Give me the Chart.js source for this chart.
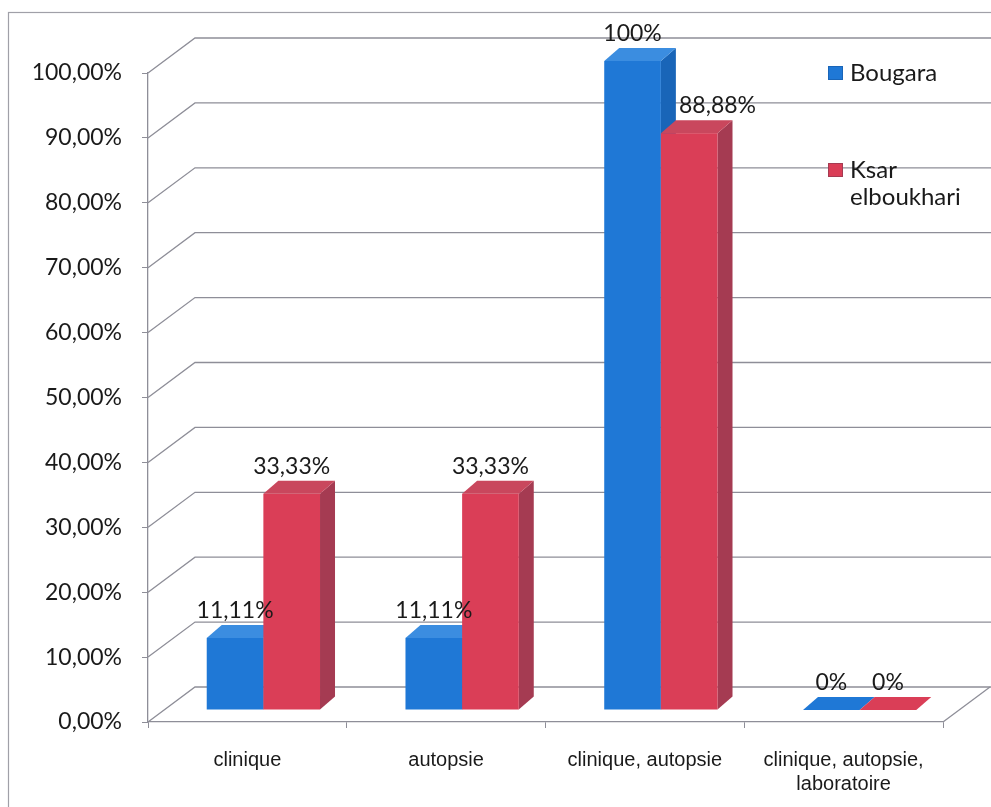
<!DOCTYPE html>
<html>
<head>
<meta charset="utf-8">
<script src="https://cdn.jsdelivr.net/npm/chart.js@4/dist/chart.umd.min.js"></script>
<style>
  html, body { margin: 0; padding: 0; background: #fff; }
  #wrap { width: 991px; height: 807px; position: relative; }
</style>
</head>
<body>
<div id="wrap"><canvas id="graphique"></canvas></div>
<script>
const categories = ['clinique', 'autopsie', 'clinique, autopsie', ['clinique, autopsie,', 'laboratoire']];
const bougara = [11.11, 11.11, 100, 0];
const ksar = [33.33, 33.33, 88.88, 0];
const etiquettesB = ['11,11%', '11,11%', '100%', '0%'];
const etiquettesK = ['33,33%', '33,33%', '88,88%', '0%'];

// faces des colonnes 3D : avant, dessus, côté
const couleurs = [
  { face: '#1f78d6', top: '#3b8de0', side: '#1965b8' },
  { face: '#da3e57', top: '#c9475d', side: '#a53b52' }
];

const decalBarre = { dx: 16, dy: -12 };   // plan avant des colonnes
const profBarre = { dx: 15, dy: -13 };    // épaisseur des colonnes
const fond = { dx: 47, dy: -35 };         // paroi du fond
const couleurGrille = '#8e8e98';

const police = 'Lato, "Open Sans", sans-serif';

const decor3d = {
  id: 'decor3d',
  beforeDatasetsDraw(chart) {
    const { ctx, chartArea } = chart;
    const y = chart.scales.y;
    ctx.save();
    ctx.strokeStyle = couleurGrille;
    ctx.lineWidth = 1.3;
    // lignes de la paroi du fond + raccords obliques
    y.ticks.forEach(t => {
      const py = y.getPixelForValue(t.value);
      ctx.beginPath();
      ctx.moveTo(chartArea.left, py);
      ctx.lineTo(chartArea.left + fond.dx, py + fond.dy);
      ctx.lineTo(chart.width, py + fond.dy);
      ctx.stroke();
    });
    // bord droit du sol
    const py0 = y.getPixelForValue(0);
    ctx.beginPath();
    ctx.moveTo(chartArea.right, py0);
    ctx.lineTo(chartArea.right + fond.dx, py0 + fond.dy);
    ctx.stroke();
    ctx.restore();

    // cadre extérieur
    ctx.save();
    ctx.strokeStyle = '#a0a0a8';
    ctx.lineWidth = 1.2;
    ctx.strokeRect(8.5, 12.5, chart.width + 20, chart.height + 20);
    ctx.restore();
  },
  afterDatasetsDraw(chart) {
    const { ctx } = chart;
    const nb = chart.data.labels.length;
    for (let i = 0; i < nb; i++) {
      chart.data.datasets.forEach((ds, d) => {
        const el = chart.getDatasetMeta(d).data[i];
        const c = couleurs[d];
        const x0 = el.x - el.width / 2 + decalBarre.dx;
        const x1 = el.x + el.width / 2 + decalBarre.dx;
        const yt = el.y + decalBarre.dy;
        const yb = el.base + decalBarre.dy;
        // côté
        ctx.fillStyle = c.side;
        ctx.beginPath();
        ctx.moveTo(x1, yb);
        ctx.lineTo(x1 + profBarre.dx, yb + profBarre.dy);
        ctx.lineTo(x1 + profBarre.dx, yt + profBarre.dy);
        ctx.lineTo(x1, yt);
        ctx.closePath();
        ctx.fill();
        // face avant
        ctx.fillStyle = c.face;
        ctx.fillRect(x0, yt, x1 - x0, yb - yt);
        // dessus
        ctx.fillStyle = yb - yt < 1 ? c.face : c.top;
        ctx.beginPath();
        ctx.moveTo(x0, yt);
        ctx.lineTo(x1, yt);
        ctx.lineTo(x1 + profBarre.dx, yt + profBarre.dy);
        ctx.lineTo(x0 + profBarre.dx, yt + profBarre.dy);
        ctx.closePath();
        ctx.fill();
      });
    }

    // étiquettes de valeurs
    ctx.save();
    ctx.font = '23px ' + police;
    ctx.fillStyle = '#1a1a1a';
    ctx.textAlign = 'center';
    ctx.textBaseline = 'bottom';
    chart.data.datasets.forEach((ds, d) => {
      const meta = chart.getDatasetMeta(d);
      meta.data.forEach((el, i) => {
        let cx = el.x + decalBarre.dx;
        // décalée à droite quand la colonne voisine est plus haute
        if (d > 0 && chart.data.datasets[d - 1].data[i] > ds.data[i]) cx += el.width / 2;
        const top = el.y + decalBarre.dy + profBarre.dy;
        ctx.fillText(ds.etiquettes[i], cx, top - 3);
      });
    });
    ctx.restore();
  },
  afterDraw(chart) {
    const { ctx } = chart;
    ctx.save();
    ctx.font = '24px ' + police;
    ctx.textBaseline = 'middle';
    const lignes = [
      { d: 0, y: 73, texte: ['Bougara'] },
      { d: 1, y: 170, texte: ['Ksar', 'elboukhari'] }
    ];
    lignes.forEach(l => {
      const c = couleurs[l.d];
      ctx.fillStyle = c.face;
      ctx.fillRect(828, l.y - 7, 15, 14);
      ctx.strokeStyle = c.side;
      ctx.lineWidth = 1;
      ctx.strokeRect(828.5, l.y - 6.5, 14, 13);
      ctx.fillStyle = '#1a1a1a';
      l.texte.forEach((t, k) => ctx.fillText(t, 850, l.y + k * 27));
    });
    ctx.restore();
  }
};

new Chart(document.getElementById('graphique'), {
  type: 'bar',
  data: {
    labels: categories,
    datasets: [
      { label: 'Bougara', data: bougara, etiquettes: etiquettesB, backgroundColor: 'rgba(0,0,0,0)' },
      { label: 'Ksar elboukhari', data: ksar, etiquettes: etiquettesK, backgroundColor: 'rgba(0,0,0,0)' }
    ]
  },
  options: {
    responsive: true,
    maintainAspectRatio: false,
    animation: false,
    categoryPercentage: 0.57,
    barPercentage: 1,
    layout: { padding: { left: 0, top: 73, right: 48, bottom: 0 } },
    plugins: {
      legend: { display: false },
      tooltip: { enabled: false }
    },
    scales: {
      x: {
        grid: { offset: true, drawOnChartArea: false, tickLength: 6, color: couleurGrille },
        border: { color: couleurGrille, width: 1.3 },
        ticks: {
          padding: 20,
          color: '#1a1a1a',
          font: { family: '"Liberation Sans", Arial, sans-serif', size: 20 }
        },
        afterFit(scale) { scale.height = 85; }
      },
      y: {
        min: 0,
        max: 100,
        grid: { drawOnChartArea: false, tickLength: 6, color: couleurGrille },
        border: { color: couleurGrille, width: 1.3 },
        ticks: {
          stepSize: 10,
          padding: 20,
          color: '#1a1a1a',
          font: { family: police, size: 23 },
          callback: v => v.toFixed(2).replace('.', ',') + '%'
        },
        afterFit(scale) { scale.width = 148; }
      }
    }
  },
  plugins: [decor3d]
});
</script>
</body>
</html>
